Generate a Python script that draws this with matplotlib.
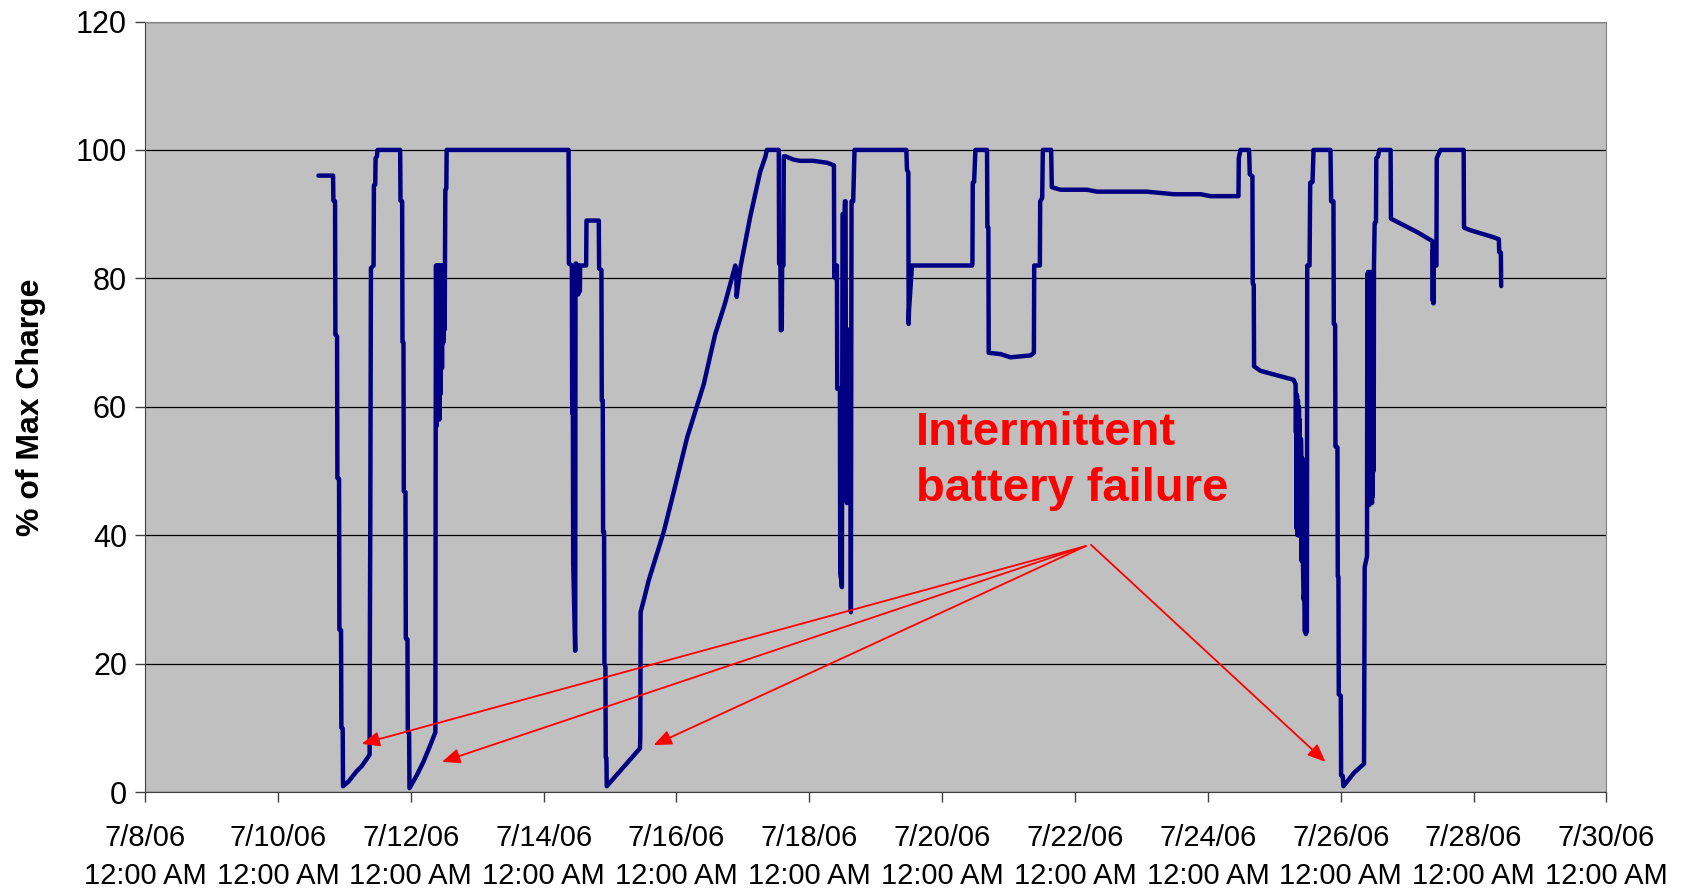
import matplotlib
matplotlib.use("Agg")
import matplotlib.pyplot as plt
import pandas as pd

plt.rcParams['font.family'] = ['Liberation Sans', 'DejaVu Sans']

# (days after 7/8/06 00:00, % of max charge)
seg_jul10 = [(2.61, 96), (2.83, 96), (2.835, 92.1), (2.86, 92), (2.865, 71.2), (2.89, 71),
             (2.895, 48.9), (2.92, 48.8), (2.925, 25.3), (2.95, 25.2), (2.955, 10.0),
             (2.975, 9.9), (2.98, 0.9), (3.06, 1.6), (3.19, 3.3), (3.26, 4.0), (3.38, 5.8),
             (3.385, 27.3), (3.39, 40.6), (3.40, 81.6), (3.44, 82), (3.445, 94.5),
             (3.465, 94.6), (3.47, 98.7), (3.49, 99), (3.50, 100), (3.84, 100),
             (3.845, 92.1), (3.87, 92), (3.875, 70.1), (3.89, 70), (3.895, 46.8),
             (3.92, 46.7), (3.925, 23.9), (3.95, 23.8), (3.955, 9.3), (3.975, 9.2),
             (3.98, 0.6), (4.09, 2.6), (4.19, 4.7), (4.29, 7.2), (4.37, 9.3)]

seg_jul12 = [(4.375, 56.6), (4.38, 82), (4.39, 57), (4.40, 82), (4.41, 60), (4.42, 82),
             (4.43, 58), (4.44, 82), (4.45, 62), (4.46, 82), (4.47, 66), (4.48, 82),
             (4.49, 70), (4.50, 80), (4.51, 72), (4.515, 82), (4.52, 93.8), (4.535, 94),
             (4.54, 100), (6.375, 100), (6.38, 82.3), (6.425, 82), (6.43, 59), (6.44, 59),
             (6.445, 35.6), (6.475, 22), (6.48, 82.3), (6.49, 82.3), (6.50, 78), (6.51, 82),
             (6.52, 77.5), (6.53, 82), (6.545, 78), (6.55, 82), (6.64, 82), (6.645, 89),
             (6.83, 89), (6.835, 81.5), (6.87, 81.3), (6.875, 61), (6.89, 61),
             (6.895, 40.5), (6.91, 40.5), (6.915, 20), (6.93, 19.5), (6.935, 5.4),
             (6.945, 5.3), (6.95, 0.9)]

seg_jul15 = [(7.45, 6.8), (7.455, 8.6), (7.46, 28), (7.53, 30.8), (7.58, 32.9),
             (7.81, 40.6), (7.96, 46.8), (8.16, 55.2), (8.41, 63.5), (8.58, 71.2),
             (8.73, 76.1), (8.885, 82), (8.90, 81), (8.905, 77.1), (8.91, 77.5),
             (8.96, 81.6), (9.11, 89.6), (9.26, 96.6), (9.34, 99), (9.36, 100),
             (9.54, 100), (9.545, 82.3), (9.565, 82), (9.57, 71.9), (9.585, 72),
             (9.59, 82), (9.61, 82), (9.615, 99), (9.64, 99), (9.76, 98.5), (9.86, 98.3),
             (10.06, 98.3), (10.27, 98), (10.37, 97.6)]

seg_jul18 = [(10.375, 80.2), (10.40, 80), (10.405, 82), (10.415, 82), (10.42, 62.8),
             (10.46, 62.8), (10.465, 34), (10.48, 33), (10.49, 31.9), (10.50, 90),
             (10.53, 90), (10.535, 92), (10.545, 92), (10.55, 60), (10.565, 45),
             (10.57, 72), (10.59, 72), (10.60, 51), (10.62, 60), (10.625, 28),
             (10.635, 92), (10.66, 92), (10.68, 100), (11.46, 100), (11.47, 96.9),
             (11.49, 96.5), (11.495, 72.9), (11.50, 75), (11.545, 82), (12.45, 82),
             (12.455, 82.3), (12.46, 94.9), (12.48, 95), (12.50, 100), (12.675, 100),
             (12.68, 88), (12.695, 87.9), (12.70, 68.4), (12.88, 68.2), (13.03, 67.7),
             (13.33, 68), (13.38, 68.4), (13.385, 82), (13.47, 82), (13.475, 92),
             (13.505, 92.5), (13.515, 100), (13.64, 100), (13.65, 94.2), (13.78, 93.8),
             (14.18, 93.8), (14.33, 93.5), (15.08, 93.5), (15.49, 93.1), (15.89, 93.1),
             (16.04, 92.8), (16.46, 92.8)]

seg_jul24 = [(16.465, 98.7), (16.49, 100), (16.62, 100), (16.63, 96.2), (16.67, 95.9),
             (16.675, 79.2), (16.69, 79), (16.695, 66.3), (16.79, 65.6), (17.29, 64.2),
             (17.32, 63.5), (17.325, 56), (17.33, 62), (17.335, 41), (17.34, 61.8),
             (17.35, 40), (17.355, 61), (17.36, 40), (17.37, 60), (17.375, 42),
             (17.38, 58), (17.39, 39.9), (17.40, 55), (17.405, 53), (17.41, 36),
             (17.42, 52), (17.43, 36.5), (17.44, 30), (17.45, 31), (17.46, 25),
             (17.47, 31.5), (17.475, 24.6), (17.485, 26), (17.49, 25), (17.495, 82),
             (17.53, 82), (17.54, 94.9), (17.575, 95), (17.59, 100), (17.845, 100),
             (17.855, 92), (17.89, 92), (17.895, 72.9), (17.915, 72.8), (17.92, 53.8),
             (17.95, 53.7), (17.955, 33.6), (17.965, 33.5), (17.97, 15.2), (18.0, 15),
             (18.005, 2.6), (18.03, 2.5), (18.04, 0.9), (18.2, 3.0), (18.35, 4.4),
             (18.36, 35), (18.395, 36.7), (18.40, 80.6), (18.405, 46), (18.41, 81),
             (18.415, 45), (18.42, 80), (18.43, 44.7), (18.435, 81), (18.44, 45),
             (18.45, 80.6), (18.455, 46), (18.46, 81), (18.47, 45), (18.475, 80),
             (18.48, 46), (18.49, 81), (18.495, 50), (18.50, 82), (18.51, 88.6),
             (18.53, 88.8), (18.535, 98.7), (18.56, 99), (18.58, 100), (18.75, 100),
             (18.755, 89.3), (19.15, 87.2),
             (19.38, 85.8), (19.385, 76.5), (19.39, 84.5), (19.395, 76.1), (19.40, 82),
             (19.44, 82), (19.445, 98.7), (19.50, 100), (19.85, 100), (19.855, 87.9),
             (19.95, 87.5), (20.30, 86.4), (20.38, 86.1), (20.385, 84.1), (20.41, 84),
             (20.415, 78.8)]

note_text = "Intermittent\nbattery failure"
note_pos = (11.6, 51.6)
arrow_start = [(14.16, 38.3), (14.16, 38.3), (14.16, 38.3), (14.24, 38.5)]
arrow_tip = [(3.26, 7.5), (4.47, 4.7), (7.655, 7.3), (17.77, 4.7)]

start = pd.Timestamp("2006-07-08")
end = pd.Timestamp("2006-07-30")
to_time = lambda d: start + pd.Timedelta(days=d)

pts = seg_jul10 + seg_jul12 + seg_jul15 + seg_jul18 + seg_jul24
times = [to_time(d) for d, _ in pts]
charge = [v for _, v in pts]

fig = plt.figure(figsize=(16.85, 8.89), dpi=100)
ax = fig.add_axes([0.0861, 0.1091, 0.8673, 0.8667])
ax.set_facecolor('#C0C0C0')

ax.plot(times, charge, color='#000080', lw=3.2, solid_joinstyle='round',
        solid_capstyle='round', zorder=3)

ax.set_xlim(start, end)
ax.set_ylim(0, 120)
ax.set_yticks(range(0, 121, 20))
ticks = pd.date_range(start, end, freq='2D')
ax.set_xticks(ticks)
ax.set_xticklabels([f"{t.month}/{t.day}/{t:%y}\n12:00 AM" for t in ticks])
for lab in ax.get_xticklabels():
    lab.set_linespacing(1.45)
ax.grid(axis='y', color='black', lw=0.9)
ax.set_axisbelow(True)
ax.tick_params(labelsize=21, length=7, width=1, color='#404040')
ax.tick_params(axis='x', pad=16)
ax.tick_params(axis='y', pad=6, labelsize=22)
for s in ('top', 'right'):
    ax.spines[s].set_color('#808080')
for s in ('left', 'bottom'):
    ax.spines[s].set_color('#404040')

ax.set_ylabel("% of Max Charge", fontsize=23, fontweight='bold')
ax.yaxis.set_label_coords(-0.068, 0.5)

ax.text(to_time(note_pos[0]), note_pos[1], note_text, color='red', fontsize=34,
        fontweight='bold', ha='left', va='center', linespacing=1.36, zorder=4)

for (x0, y0), (x1, y1) in zip(arrow_start, arrow_tip):
    ax.annotate("", xy=(to_time(x1), y1), xytext=(to_time(x0), y0),
                arrowprops=dict(arrowstyle='-|>,head_length=0.6,head_width=0.25',
                                color='red', lw=1.3, mutation_scale=18,
                                shrinkA=0, shrinkB=0), zorder=4)

fig.savefig("out.png", dpi=100)
